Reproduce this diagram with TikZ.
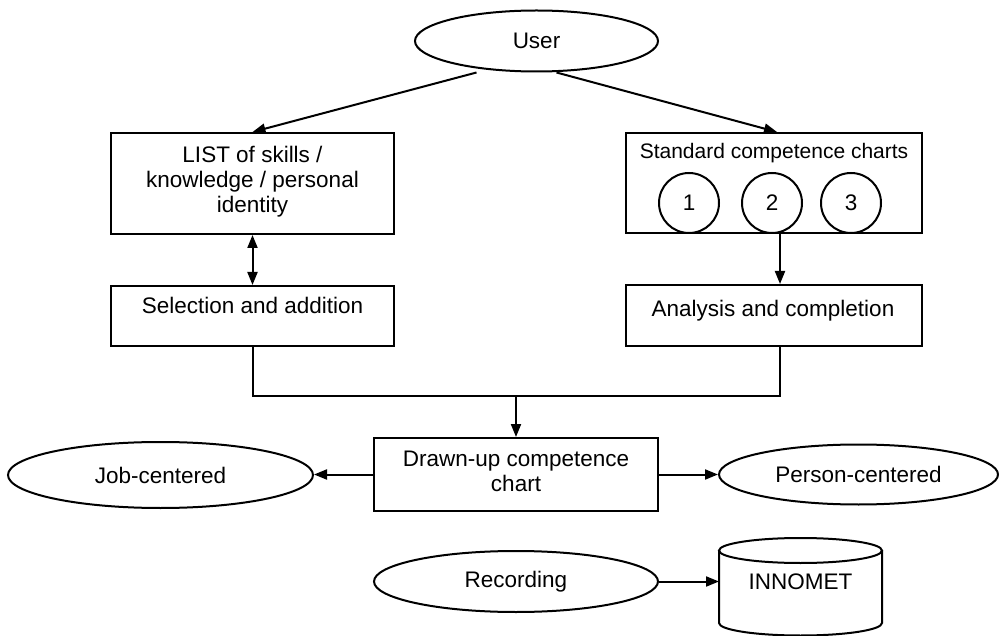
\documentclass[tikz,border=0pt]{standalone}
\usepackage{fontspec}
\setmainfont{Liberation Sans}
\usetikzlibrary{shapes.geometric,arrows.meta}
\begin{document}
\begin{tikzpicture}[x=1pt,y=-1pt,
  every node/.style={font=\fontsize{22.5}{26}\selectfont},
  conn/.style={line width=2pt},
  arr/.style={conn, -{Triangle[length=13pt,width=10pt]}},
  dblarr/.style={conn, {Triangle[length=13pt,width=10pt]}-{Triangle[length=13pt,width=10pt]}},
  rbox/.style={draw, rectangle, line width=2pt, inner sep=0pt},
  oval/.style={draw, ellipse, line width=2pt, inner sep=0pt},
  chart/.style={draw, circle, line width=2pt, inner sep=0pt, minimum size=60pt},
  txt/.style={anchor=base, inner sep=0pt}]
\useasboundingbox (0,0) rectangle (999,636);

% top: the user
\node[oval, minimum width=243pt, minimum height=61pt] (user) at (536.5,41) {User};

% left branch
\node[rbox, minimum width=283pt, minimum height=101pt] (list) at (252.5,183.5) {};
\node[txt] (list-t1) at (252.5,163) {LIST of skills /};
\node[txt] (list-t2) at (252.5,188) {knowledge / personal};
\node[txt] (list-t3) at (252.5,213) {identity};

\node[rbox, minimum width=283pt, minimum height=60pt] (sel) at (252.5,316) {};
\node[txt] (sel-t) at (252.5,314) {Selection and addition};

% right branch
\node[rbox, minimum width=296pt, minimum height=100pt] (std) at (774,183) {};
\node[txt, font=\fontsize{21}{24}\selectfont] (std-t) at (774,159) {Standard competence charts};
\node[chart] (c1) at (689,203) {1};
\node[chart] (c2) at (772,203) {2};
\node[chart] (c3) at (851,203) {3};

\node[rbox, minimum width=296pt, minimum height=61pt] (ana) at (774,315.5) {};
\node[txt] (ana-t) at (773,317) {Analysis and completion};

% merge
\coordinate (join) at (516,396);
\node[rbox, minimum width=284pt, minimum height=73pt] (drawn) at (516,474.5) {};
\node[txt] (drawn-t1) at (516,466) {Drawn-up competence};
\node[txt] (drawn-t2) at (516,491.5) {chart};

\node[oval, minimum width=305pt, minimum height=66pt] (job) at (160.5,475) {Job-centered};
\node[oval, minimum width=279pt, minimum height=60pt] (person) at (858.5,474.5) {Person-centered};

% recording into the database
\node[oval, minimum width=284pt, minimum height=61pt] (rec) at (516,581.5) {Recording};
\draw[conn] (800.5,550.5) ellipse[x radius=81.5pt, y radius=12.5pt];
\draw[conn] (719,550.5) -- (719,623)
  arc[start angle=180, end angle=360, x radius=81.5pt, y radius=12.5pt] -- (882,550.5);
\coordinate (db-in) at (719,581.5);
\node[txt] (db) at (800.5,589) {INNOMET};

% connectors
\draw[arr] ([xshift=-60pt]user.south) -- (list.north);
\draw[arr] ([xshift=20pt]user.south) -- ([xshift=3pt]std.north);
\draw[dblarr] (list.south) -- (sel.north);
\draw[arr] ([xshift=6pt]std.south) -- ([xshift=6pt]ana.north);
\draw[conn] (sel.south) |- (join) -| ([xshift=6pt]ana.south);
\draw[arr] (join) -- (drawn.north);
\draw[arr] (drawn.west) -- (drawn.west -| job.east);
\draw[arr] (drawn.east) -- (drawn.east -| person.west);
\draw[arr] (rec.east) -- (db-in);
\end{tikzpicture}
\end{document}
